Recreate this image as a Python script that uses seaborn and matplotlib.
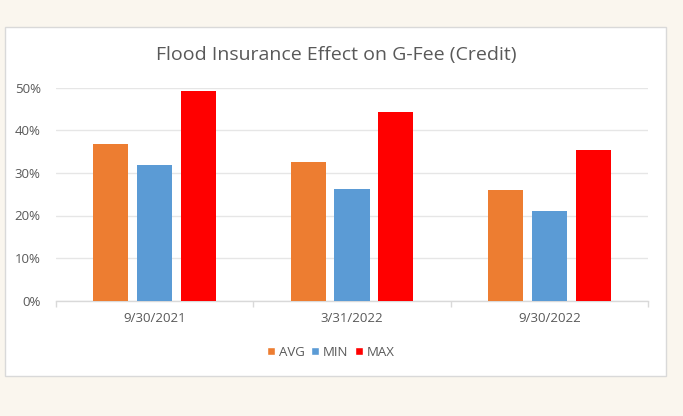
import numpy as np
import pandas as pd
import seaborn as sns
import matplotlib

matplotlib.use("Agg")
import matplotlib.pyplot as plt
from matplotlib.patches import Rectangle, Patch
from matplotlib.ticker import PercentFormatter, FixedLocator

dates = ["9/30/2021", "3/31/2022", "9/30/2022"]
series = ["AVG", "MIN", "MAX"]
avg_vals = [36.8, 32.6, 26.0]
min_vals = [31.9, 26.2, 21.0]
max_vals = [49.2, 44.4, 35.4]
y_ticks = [0, 10, 20, 30, 40, 50]

bar_colors = {"AVG": "#ED7D31", "MIN": "#5B9BD5", "MAX": "#FF0000"}
text_gray = "#595959"

df = pd.DataFrame(
    {
        "Date": dates * 3,
        "Series": ["AVG"] * 3 + ["MIN"] * 3 + ["MAX"] * 3,
        "Value": avg_vals + min_vals + max_vals,
    }
)

sns.set_theme(style="white")
plt.rcParams["font.family"] = ["Open Sans", "DejaVu Sans"]

fig = plt.figure(figsize=(6.83, 4.16), dpi=100)
fig.patch.set_facecolor("#FAF6EE")

# white chart box
box = Rectangle(
    (5 / 683, 40 / 416), 661 / 683, 349 / 416,
    transform=fig.transFigure, facecolor="white", edgecolor="#D9D9D9",
    linewidth=1, zorder=-10,
)
fig.patches.append(box)

ax = fig.add_axes([56 / 683, 115.3 / 416, 592 / 683, 213 / 416])
ax.set_facecolor("none")

sns.barplot(
    data=df, x="Date", y="Value", hue="Series", hue_order=series,
    palette=bar_colors, saturation=1, width=0.667, gap=0.2, linewidth=0,
    ax=ax, legend=False, zorder=3,
)

ax.set_xlim(-0.5, 2.5)
ax.set_ylim(0, 50)
ax.yaxis.set_major_locator(FixedLocator(y_ticks))
ax.yaxis.set_major_formatter(PercentFormatter(decimals=0))
ax.grid(axis="y", color="#E6E6E6", linewidth=1, zorder=0)
ax.set_axisbelow(True)
for s in ["top", "right", "left"]:
    ax.spines[s].set_visible(False)
ax.spines["bottom"].set_color("#D9D9D9")
ax.spines["bottom"].set_linewidth(1)
ax.set_xlabel("")
ax.set_ylabel("")
ax.tick_params(axis="y", colors=text_gray, labelsize=9.5, length=0, pad=11)
ax.tick_params(axis="x", colors=text_gray, labelsize=9.5, length=0, pad=8)
ax.xaxis.set_minor_locator(FixedLocator([-0.5, 0.5, 1.5, 2.5]))
ax.tick_params(axis="x", which="minor", bottom=True, length=4,
               color="#D9D9D9", width=1)

fig.text(336 / 683, 1 - 55 / 416, "Flood Insurance Effect on G-Fee (Credit)",
         color=text_gray, fontsize=14, ha="center", va="center")

handles = [Patch(facecolor=bar_colors[s], label=s) for s in series]
fig.legend(
    handles=handles, loc="center", bbox_to_anchor=(331 / 683, 1 - 352 / 416),
    ncol=3, frameon=False, fontsize=9.5, handlelength=0.6, handleheight=0.6,
    handletextpad=0.3, columnspacing=0.5, labelcolor=text_gray,
)

fig.savefig("out.png", dpi=100, facecolor=fig.get_facecolor())
